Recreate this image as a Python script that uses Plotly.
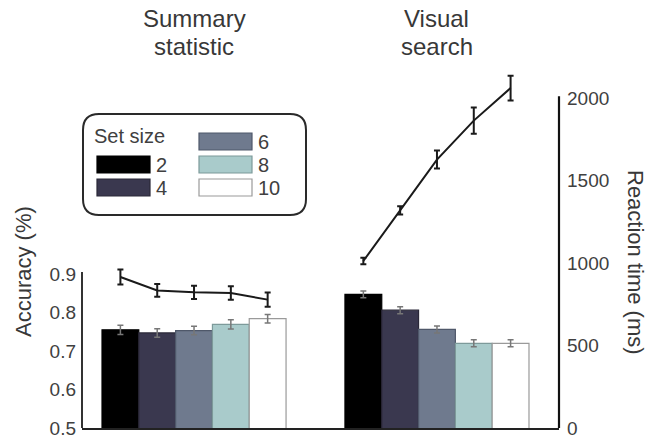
import plotly.graph_objects as go

# ---------------- data ----------------
set_sizes = ["2", "4", "6", "8", "10"]
task_titles = [["Summary", "statistic"], ["Visual", "search"]]
bar_colors = ["#000000", "#3a384f", "#6f7a8e", "#a9cbcb", "#ffffff"]
bar_edges = ["#000000", "#2a2838", "#4f586a", "#7d9a9a", "#9a9a9a"]

acc_summary = [0.755, 0.747, 0.753, 0.769, 0.784]
acc_summary_err = [0.012, 0.011, 0.011, 0.012, 0.011]
acc_visual = [0.847, 0.806, 0.756, 0.720, 0.720]
acc_visual_err = [0.009, 0.009, 0.009, 0.009, 0.009]

rt_summary = [915, 834, 822, 818, 778]
rt_summary_err = [45, 38, 40, 41, 43]
rt_visual = [1012, 1319, 1627, 1863, 2060]
rt_visual_err = [20, 25, 55, 80, 75]

acc_ticks = [0.5, 0.6, 0.7, 0.8, 0.9]
rt_ticks = [0, 500, 1000, 1500, 2000]

# ---------------- layout helpers ----------------
W, H = 650, 440
L, R, T, B = 82, 91, 68, 12
PW, PH = W - L - R, H - T - B

def px(x):
    return (x - L) / PW

def py(y):
    return (H - B - y) / PH

group_centers = [0.0, 6.6]
n = len(set_sizes)

def xpos(g, i):
    return group_centers[g] + (i - (n - 1) / 2)

FONT = "Liberation Sans, Arial, sans-serif"
TXT = "#404040"

fig = go.Figure()

acc_vals = [acc_summary, acc_visual]
acc_errs = [acc_summary_err, acc_visual_err]
for i in range(n):
    fig.add_trace(go.Bar(
        x=[xpos(0, i), xpos(1, i)],
        y=[acc_vals[0][i], acc_vals[1][i]],
        width=1,
        marker=dict(color=bar_colors[i], line=dict(color=bar_edges[i], width=1.2)),
        error_y=dict(type="data", array=[acc_errs[0][i], acc_errs[1][i]],
                     color="#777777", thickness=1.5, width=3),
        name=set_sizes[i], showlegend=False, yaxis="y",
    ))

for g, (vals, errs) in enumerate([(rt_summary, rt_summary_err), (rt_visual, rt_visual_err)]):
    fig.add_trace(go.Scatter(
        x=[xpos(g, i) for i in range(n)], y=vals, yaxis="y2",
        mode="lines", line=dict(color="#1a1a1a", width=2),
        error_y=dict(type="data", array=errs, color="#1a1a1a", thickness=2, width=3),
        showlegend=False,
    ))

x_lo = group_centers[0] - (194 - L) / 36.8
x_hi = group_centers[1] + (L + PW - 437) / 36.8

shapes = []
annotations = []

# left axis line (0.5 .. 0.9) and right axis line (0 .. 2000)
shapes.append(dict(type="line", xref="paper", yref="y", x0=0, x1=0,
                   y0=acc_ticks[0], y1=acc_ticks[-1] + 0.005,
                   line=dict(color="#333333", width=2)))
shapes.append(dict(type="line", xref="paper", yref="y2", x0=1, x1=1,
                   y0=rt_ticks[0], y1=rt_ticks[-1] + 10,
                   line=dict(color="#111111", width=2.2)))

# legend box (rounded)
bx0, bx1, by0, by1, rr = 83, 306, 114, 215, 16
path = (f"M {px(bx0+rr)},{py(by0)} L {px(bx1-rr)},{py(by0)} "
        f"Q {px(bx1)},{py(by0)} {px(bx1)},{py(by0+rr)} "
        f"L {px(bx1)},{py(by1-rr)} Q {px(bx1)},{py(by1)} {px(bx1-rr)},{py(by1)} "
        f"L {px(bx0+rr)},{py(by1)} Q {px(bx0)},{py(by1)} {px(bx0)},{py(by1-rr)} "
        f"L {px(bx0)},{py(by0+rr)} Q {px(bx0)},{py(by0)} {px(bx0+rr)},{py(by0)} Z")
shapes.append(dict(type="path", xref="paper", yref="paper", path=path,
                   line=dict(color="#2a2a2a", width=2), fillcolor="rgba(255,255,255,0)"))
annotations.append(dict(text="Set size", xref="paper", yref="paper", x=px(92), y=py(136),
                        xanchor="left", yanchor="middle", showarrow=False,
                        font=dict(family=FONT, size=20, color=TXT)))
col_x = [97, 199]
sw_w, sw_h = 53, 17
for i, lab in enumerate(set_sizes):
    col = 0 if i < 2 else 1
    row = i + 1 if i < 2 else i - 2
    cy = 141.5 + 23 * row
    x0 = col_x[col]
    shapes.append(dict(type="rect", xref="paper", yref="paper",
                       x0=px(x0), x1=px(x0 + sw_w), y0=py(cy - sw_h / 2), y1=py(cy + sw_h / 2),
                       fillcolor=bar_colors[i], line=dict(color=bar_edges[i], width=1.2)))
    annotations.append(dict(text=lab, xref="paper", yref="paper", x=px(x0 + sw_w + 4), y=py(cy),
                            xanchor="left", yanchor="middle", showarrow=False,
                            font=dict(family=FONT, size=20, color=TXT)))

# group titles
for g, lines in enumerate(task_titles):
    for k, line in enumerate(lines):
        annotations.append(dict(text=line, xref="x", yref="paper", x=group_centers[g],
                                y=py(18 + 28 * k), xanchor="center", yanchor="middle",
                                showarrow=False, font=dict(family=FONT, size=24, color="#383838")))

# axis titles
annotations.append(dict(text="Accuracy (%)", xref="paper", yref="paper", x=px(23), y=py(272),
                        textangle=-90, xanchor="center", yanchor="middle", showarrow=False,
                        font=dict(family=FONT, size=22, color="#383838")))
annotations.append(dict(text="Reaction time (ms)", xref="paper", yref="paper", x=px(636), y=py(262),
                        textangle=90, xanchor="center", yanchor="middle", showarrow=False,
                        font=dict(family=FONT, size=22, color="#383838")))

fig.update_layout(
    width=W, height=H, autosize=False,
    margin=dict(l=L, r=R, t=T, b=B, pad=0, autoexpand=False),
    paper_bgcolor="white", plot_bgcolor="white",
    barmode="overlay",
    xaxis=dict(range=[x_lo, x_hi], showline=True, linewidth=2, linecolor="#222222",
               showticklabels=False, ticks="", showgrid=False, zeroline=False,
               automargin=False),
    yaxis=dict(range=[0.5, 0.5 + PH / 385], tickvals=acc_ticks,
               ticktext=[f"{t:.1f}" for t in acc_ticks], ticks="", showline=False,
               showgrid=False, zeroline=False, ticklabelstandoff=5, ticklabeloverflow="allow",
               automargin=False, tickfont=dict(family=FONT, size=19, color=TXT)),
    yaxis2=dict(range=[0, 2000 * PH / 330], overlaying="y", side="right",
                tickvals=rt_ticks, ticks="", showline=False,
                showgrid=False, zeroline=False, ticklabelstandoff=7, ticklabeloverflow="allow",
                automargin=False, tickfont=dict(family=FONT, size=19, color=TXT)),
    shapes=shapes, annotations=annotations,
)

fig.write_html("out.html")
